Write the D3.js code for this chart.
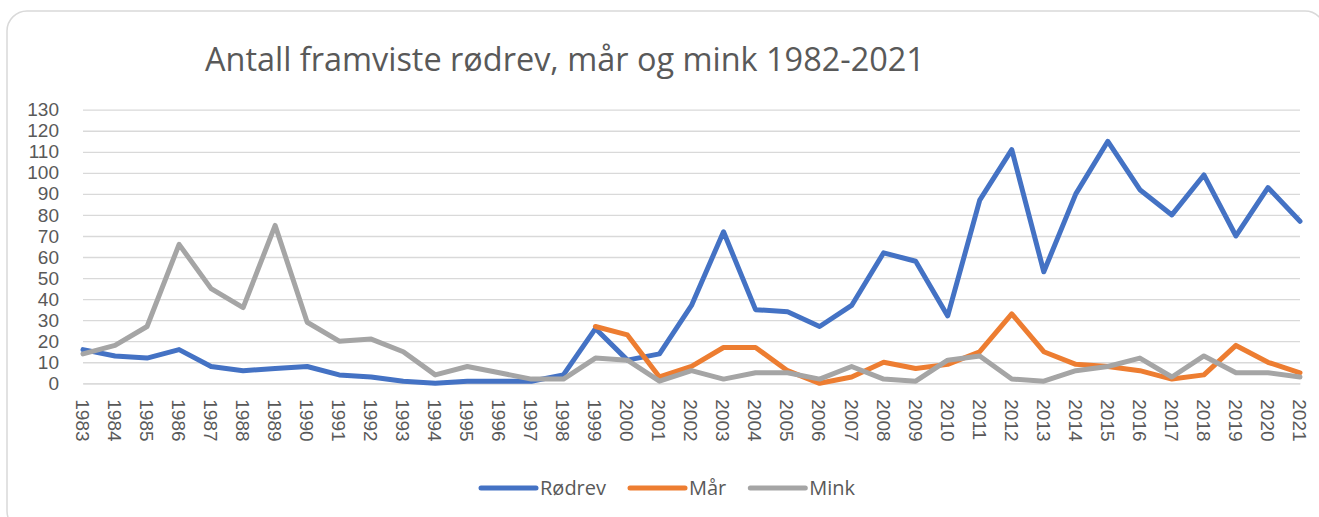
<!DOCTYPE html>
<html>
<head>
<meta charset="utf-8">
<script src="https://cdn.jsdelivr.net/npm/d3@7"></script>
<style>
  body { margin: 0; background: #fff; }
  svg { display: block; font-family: "Open Sans", sans-serif; }
</style>
</head>
<body>
<div id="wrapper"></div>
<script>
// data
const years = d3.range(1983, 2022);
const rodrev = [16, 13, 12, 16, 8, 6, 7, 8, 4, 3, 1, 0, 1, 1, 1, 4, 26, 11, 14, 37,
    72, 35, 34, 27, 37, 62, 58, 32, 87, 111, 53, 90, 115, 92, 80, 99, 70, 93, 77];
const mar = [null, null, null, null, null, null, null, null, null, null, null, null, null, null, null, null,
    27, 23, 3, 8, 17, 17, 6, 0, 3, 10, 7, 9, 15, 33, 15, 9, 8, 6, 2, 4, 18, 10, 5];
const mink = [14, 18, 27, 66, 45, 36, 75, 29, 20, 21, 15, 4, 8, 5, 2, 2, 12, 11, 1, 6,
    2, 5, 5, 2, 8, 2, 1, 11, 13, 2, 1, 6, 8, 12, 3, 13, 5, 5, 3];
const seriesNames = ["Rødrev", "Mår", "Mink"];
const seriesColors = ["#4472C4", "#ED7D31", "#A5A5A5"];
const yTicks = d3.range(0, 131, 10);
const title = "Antall framviste rødrev, mår og mink 1982-2021";

const width = 1319, height = 517;
const textColor = "#595959";
const fontSize = 19;
const axisFont = '"Liberation Sans", sans-serif';

const svg = d3.select("#wrapper").append("svg")
    .attr("width", width)
    .attr("height", height);

// chart frame
svg.append("rect")
    .attr("x", 7).attr("y", 11)
    .attr("width", 1318).attr("height", 520)
    .attr("rx", 20)
    .attr("fill", "#fff")
    .attr("stroke", "#d9d9d9")
    .attr("stroke-width", 1.5);

const xScale = d3.scalePoint()
    .domain(years)
    .range([83, 1300]);

const yScale = d3.scaleLinear()
    .domain([0, 130])
    .range([383.3, 109.7]);

// gridlines + y labels
const yAxis = d3.axisLeft(yScale)
    .tickValues(yTicks)
    .tickSize(-(1300 - 83))
    .tickPadding(24);

const gy = svg.append("g")
    .attr("transform", "translate(83,0)")
    .call(yAxis);
gy.select(".domain").remove();
gy.selectAll("line").attr("stroke", "#d9d9d9").attr("stroke-width", 1.3);
gy.selectAll("text")
    .attr("fill", textColor)
    .style("font-family", axisFont)
    .style("font-size", fontSize + "px");

// x labels, rotated
const xAxis = d3.axisBottom(xScale).tickSize(0);
const gx = svg.append("g")
    .attr("transform", "translate(0,383.3)")
    .call(xAxis);
gx.select(".domain").attr("stroke", "#d9d9d9").attr("stroke-width", 1.3);
gx.selectAll("text")
    .attr("fill", textColor)
    .style("font-family", axisFont)
    .style("font-size", fontSize + "px")
    .style("text-anchor", "start")
    .attr("transform", "rotate(90)")
    .attr("x", 16)
    .attr("y", 0)
    .attr("dy", "0.4em");

// lines, in series order
const allSeries = [rodrev, mar, mink];
const line = d3.line()
    .defined(d => d != null)
    .x((d, i) => xScale(years[i]))
    .y(d => yScale(d));

allSeries.forEach((vals, k) => {
    svg.append("path")
        .attr("d", line(vals))
        .attr("fill", "none")
        .attr("stroke", seriesColors[k])
        .attr("stroke-width", 5)
        .attr("stroke-linejoin", "round")
        .attr("stroke-linecap", "round");
});

// title, fitted to the width it has in the picture
const titleText = svg.append("text")
    .attr("x", 205)
    .attr("y", 71)
    .attr("fill", textColor)
    .style("font-size", "31px")
    .text(title);
const tw = titleText.node().getComputedTextLength();
titleText.style("font-size", (31 * 720 / tw) + "px");

// legend
const legend = svg.append("g");
let lx = 0;
seriesNames.forEach((name, k) => {
    const item = legend.append("g").attr("transform", `translate(${lx},0)`);
    item.append("line")
        .attr("x1", 0).attr("x2", 55)
        .attr("y1", 0).attr("y2", 0)
        .attr("stroke", seriesColors[k])
        .attr("stroke-width", 5)
        .attr("stroke-linecap", "round");
    const t = item.append("text")
        .attr("x", 59)
        .attr("dy", "0.35em")
        .attr("fill", textColor)
        .style("font-size", "20px")
        .text(name);
    lx += 59 + t.node().getComputedTextLength() + 24;
});
legend.attr("transform", "translate(481,488)");
</script>
</body>
</html>
